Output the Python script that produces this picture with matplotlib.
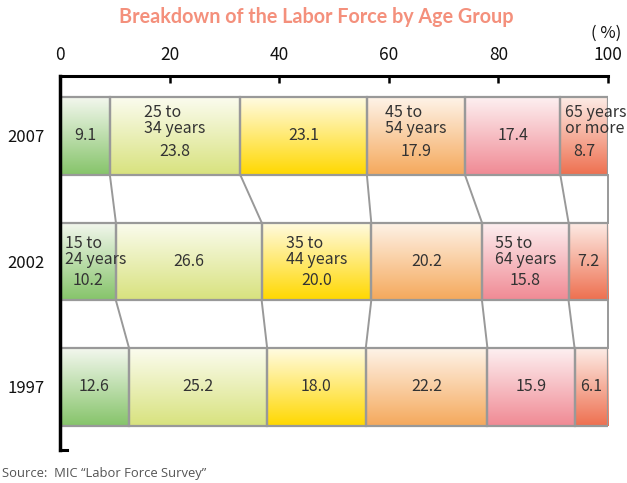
import numpy as np
import matplotlib
matplotlib.use("Agg")
import matplotlib.pyplot as plt
from matplotlib.lines import Line2D

years = ["2007", "2002", "1997"]
groups = ["15 to\n24 years", "25 to\n34 years", "35 to\n44 years",
          "45 to\n54 years", "55 to\n64 years", "65 years\nor more"]
values = {
    "2007": [9.1, 23.8, 23.1, 17.9, 17.4, 8.7],
    "2002": [10.2, 26.6, 20.0, 20.2, 15.8, 7.2],
    "1997": [12.6, 25.2, 18.0, 22.2, 15.9, 6.1],
}
value_labels = {
    "2007": ["9.1", "23.8", "23.1", "17.9", "17.4", "8.7"],
    "2002": ["10.2", "26.6", "20.0", "20.2", "15.8", "7.2"],
    "1997": ["12.6", "25.2", "18.0", "22.2", "15.9", "6.1"],
}
# which year row carries the group name for each group
group_label_row = {0: "2002", 1: "2007", 2: "2002", 3: "2007", 4: "2002", 5: "2007"}
xticks = [0, 20, 40, 60, 80, 100]

bottom_colors = ["#86c46a", "#d8e27e", "#ffd800", "#f5a95c", "#f08a94", "#ee7050"]
top_colors = ["#f3f7ee", "#fbfcef", "#fffbe2", "#fef3e8", "#fdf0f1", "#fdece6"]

W, H = 627, 483
fig = plt.figure(figsize=(W / 100, H / 100), dpi=100)
ax = fig.add_axes([60 / W, 1 - 450 / H, 548 / W, 374 / H])

ypos = {"2007": 2, "2002": 1, "1997": 0}
bh = 0.62
ax.set_xlim(0, 100)
ax.set_ylim(-0.502, 2.478)

txtfont = ["Noto Sans CJK JP", "DejaVu Sans"]
tc = "#333333"
fs = 11.5


def hex2rgb(h):
    return np.array([int(h[i:i + 2], 16) / 255 for i in (1, 3, 5)])


for yr in years:
    y = ypos[yr]
    vals = values[yr]
    lefts = np.concatenate([[0], np.cumsum(vals)[:-1]])
    for i, (l, v) in enumerate(zip(lefts, vals)):
        c0 = hex2rgb(top_colors[i])
        c1 = hex2rgb(bottom_colors[i])
        t = np.linspace(0, 1, 100)[:, None]
        grad = (c0[None, :] * (1 - t) + c1[None, :] * t)[:, None, :]
        ax.imshow(grad, extent=(l, l + v, y - bh / 2, y + bh / 2),
                  aspect="auto", origin="upper", interpolation="bilinear", zorder=1)
    ax.barh([y] * len(vals), vals, left=lefts, height=bh, fill=False,
            edgecolor="#999999", linewidth=1.6, zorder=2)
    for i, (l, v) in enumerate(zip(lefts, vals)):
        cx = l + v / 2
        if group_label_row[i] == yr:
            if i == 5:
                ax.text(l + 0.8, y + 0.12, groups[i], ha="left", va="center",
                        fontsize=fs, color=tc, family=txtfont, linespacing=0.92,
                        zorder=4, clip_on=False)
                ax.text(cx, y - 0.12, value_labels[yr][i], ha="center", va="center",
                        fontsize=fs, color=tc, family=txtfont, zorder=4)
            elif i == 0:
                ax.text(l + 1.0, y + 0.08, groups[i], ha="left", va="center",
                        fontsize=fs, color=tc, family=txtfont, linespacing=0.92,
                        zorder=4, clip_on=False)
                ax.text(cx, y - 0.15, value_labels[yr][i], ha="center", va="center",
                        fontsize=fs, color=tc, family=txtfont, zorder=4)
            else:
                oy = 0.12 if yr == "2007" else 0.08
                ax.text(cx, y + oy, groups[i], ha="center", va="center",
                        multialignment="left", fontsize=fs, color=tc,
                        family=txtfont, linespacing=0.92, zorder=4)
                ax.text(cx, y - (0.12 if yr == "2007" else 0.15), value_labels[yr][i],
                        ha="center", va="center", fontsize=fs, color=tc,
                        family=txtfont, zorder=4)
        else:
            ax.text(cx, y, value_labels[yr][i], ha="center", va="center",
                    fontsize=fs, color=tc, family=txtfont, zorder=4)

# connector lines between successive bars
for upper, lower in [("2007", "2002"), ("2002", "1997")]:
    cu = np.cumsum(values[upper])
    cl = np.cumsum(values[lower])
    for a, b in zip(cu, cl):
        ax.plot([a, b], [ypos[upper] - bh / 2, ypos[lower] + bh / 2],
                color="#999999", linewidth=1.4, zorder=1.5, clip_on=False)

# axes styling
for s in ["right", "bottom"]:
    ax.spines[s].set_visible(False)
ax.spines["top"].set_linewidth(2.2)
ax.spines["left"].set_linewidth(2.5)
ax.xaxis.tick_top()
ax.set_xticks(xticks)
ax.set_xticklabels([str(x) for x in xticks])
ax.tick_params(axis="x", direction="in", length=5, width=1.8, pad=9,
               labelsize=12.5, labelcolor="#111111")
for lab in ax.get_xticklabels():
    lab.set_family(txtfont)
ax.set_yticks([ypos[y] for y in years])
ax.set_yticklabels(years)
ax.tick_params(axis="y", length=0, pad=11, labelsize=12, labelcolor="#111111")
for lab in ax.get_yticklabels():
    lab.set_family(txtfont)
ax.add_line(Line2D([0, 0.012], [0, 0], transform=ax.transAxes, color="black",
                   linewidth=2.2, clip_on=False))

fig.text(606 / W, 1 - 33 / H, "( %)", ha="center", va="center", fontsize=12,
         color="#111111", family=txtfont)
fig.text(316 / W, 1 - 17 / H, "Breakdown of the Labor Force by Age Group",
         ha="center", va="center", fontsize=14.2, fontweight="bold",
         color="#f4907c", family=["Lato", "DejaVu Sans"])
fig.text(2 / W, 1 - 474 / H, "Source:  MIC “Labor Force Survey”", ha="left",
         va="center", fontsize=9.4, color="#555555", family=["Open Sans", "DejaVu Sans"])

fig.savefig("out.png", dpi=100)
